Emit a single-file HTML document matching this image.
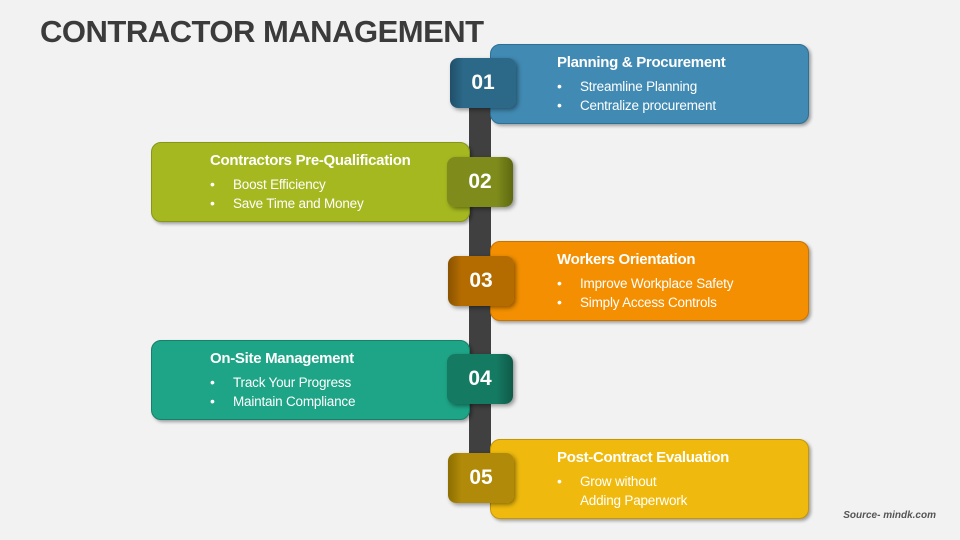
<!DOCTYPE html>
<html><head><meta charset="utf-8"><style>
body{margin:0;width:960px;height:540px;background:#f2f2f2;position:relative;overflow:hidden;font-family:"Liberation Sans",sans-serif;}
.t{position:absolute;left:40px;top:14px;font-size:31px;font-weight:bold;color:#3b3b3b;letter-spacing:-0.5px;}
.bar{position:absolute;left:469px;top:100px;width:22px;height:392px;background:#404040;}
.box{position:absolute;width:317px;height:78px;border-radius:10px;box-shadow:2px 2px 3px rgba(0,0,0,.35);color:#fff;}
.box h{display:block;position:absolute;top:9px;font-size:15px;font-weight:bold;letter-spacing:-0.3px;white-space:nowrap;}
.box ul{position:absolute;top:32px;margin:0;padding:0;list-style:none;font-size:13.5px;line-height:19px;letter-spacing:-0.2px;}
.box li{position:relative;padding-left:23px;white-space:nowrap;}
.box li.b:before{content:"•";position:absolute;left:0;font-size:14px;}
.tab{position:absolute;width:66px;height:50px;border-radius:8px;box-shadow:2px 2px 4px rgba(0,0,0,.4);color:#fff;font-size:21px;font-weight:bold;text-align:center;line-height:50px;}
.s{position:absolute;right:24px;top:510px;font-size:10px;font-weight:bold;font-style:italic;color:#555;}
</style></head><body>
<div class="t">CONTRACTOR MANAGEMENT</div>
<div class="bar"></div>

<div class="box" style="left:490px;top:44px;background:#418ab3;border:1px solid #2f6f93"><h style="left:66px">Planning &amp; Procurement</h><ul style="left:66px"><li class="b">Streamline Planning</li><li class="b">Centralize procurement</li></ul></div>
<div class="box" style="left:151px;top:142px;background:#a5b820;border:1px solid #86961a"><h style="left:58px">Contractors Pre-Qualification</h><ul style="left:58px"><li class="b">Boost Efficiency</li><li class="b">Save Time and Money</li></ul></div>
<div class="box" style="left:490px;top:241px;background:#f38f00;border:1px solid #c87400"><h style="left:66px">Workers Orientation</h><ul style="left:66px"><li class="b">Improve Workplace Safety</li><li class="b">Simply Access Controls</li></ul></div>
<div class="box" style="left:151px;top:340px;background:#1ea486;border:1px solid #16806a"><h style="left:58px">On-Site Management</h><ul style="left:58px"><li class="b">Track Your Progress</li><li class="b">Maintain Compliance</li></ul></div>
<div class="box" style="left:490px;top:439px;background:#efba0d;border:1px solid #c49708"><h style="left:66px">Post-Contract Evaluation</h><ul style="left:66px"><li class="b">Grow without</li><li>Adding Paperwork</li></ul></div>

<div class="tab" style="left:450px;top:58px;background:linear-gradient(90deg,#1f4f6a,#2c6887 20%,#2c6887)">01</div>
<div class="tab" style="left:447px;top:157px;background:linear-gradient(90deg,#7f8c1c,#7f8c1c 75%,#5e6810)">02</div>
<div class="tab" style="left:448px;top:256px;background:linear-gradient(90deg,#8a5200,#b46c00 20%,#b46c00)">03</div>
<div class="tab" style="left:447px;top:354px;background:linear-gradient(90deg,#157a62,#157a62 75%,#0e5a48)">04</div>
<div class="tab" style="left:448px;top:453px;background:linear-gradient(90deg,#8c6e00,#b08a08 20%,#b08a08)">05</div>

<div class="s">Source- mindk.com</div>
</body></html>
